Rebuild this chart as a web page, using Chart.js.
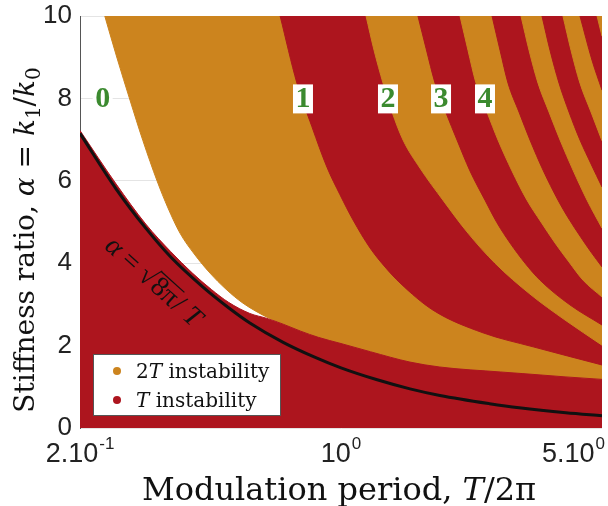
<!DOCTYPE html>
<html>
<head>
<meta charset="utf-8">
<script src="https://cdn.jsdelivr.net/npm/chart.js@4.4.0/dist/chart.umd.min.js"></script>
<style>
  html, body { margin: 0; padding: 0; background: #fff; }
</style>
</head>
<body>
<canvas id="chart" width="608" height="506"></canvas>
<script>
const ORANGE = '#cc841e';
const RED = '#ad151e';
const GREEN = '#3b8a2f';
const SERIF = '"DejaVu Serif", serif';
const SANS = '"Liberation Sans", Arial, sans-serif';

// axis ticks
const xTicks = [0.2, 1, 5];
const xTickBase = ['2.10', '10', '5.10'];
const xTickExp = ['-1', '0', '0'];

// tongue numbers and where they sit
const tongueIds = ['0', '1', '2', '3', '4'];
const tongueX = [0.230, 0.791, 1.336, 1.853, 2.43];
const tongueY = 8;

// boundaries, [T/2pi, alpha]
const whiteEdge = [[0.233, 10], [0.2513, 8.98], [0.2722, 7.96], [0.2949, 6.97], [0.3216, 6.0],
  [0.3441, 5.34], [0.3705, 4.73], [0.4064, 4.20], [0.4458, 3.76], [0.4920, 3.37],
  [0.5464, 3.03], [0.6336, 2.69]];
const redFloor = [[0.2, 7.22], [0.25, 5.92], [0.3, 4.95], [0.35, 4.28], [0.4, 3.76],
  [0.45, 3.36], [0.5, 3.05], [0.57, 2.78], [0.6336, 2.66], [0.7, 2.52], [0.78, 2.35],
  [0.87, 2.2], [1.0, 2.05], [1.2, 1.85], [1.53, 1.6], [1.84, 1.48], [2.67, 1.36],
  [3.07, 1.32], [4.0, 1.24], [5.0, 1.18]];
const tongue1Left = [[0.687, 10], [0.762, 8.37], [0.836, 7.31], [0.917, 6.33], [0.994, 5.66],
  [1.077, 5.05], [1.196, 4.37], [1.320, 3.88], [1.439, 3.52], [1.764, 2.86], [2.40, 2.31],
  [3.27, 1.97], [5.0, 1.53]];
const tongue1Right = [[1.167, 10], [1.226, 9.17], [1.296, 8.37], [1.370, 7.67], [1.466, 6.99],
  [1.627, 6.31], [1.875, 5.53], [2.188, 4.73], [2.585, 4.0], [3.207, 3.25], [3.981, 2.62],
  [5.0, 2.01]];
const tongue2Left = [[1.607, 10], [1.689, 9.22], [1.786, 8.37], [1.911, 7.65], [2.045, 6.99],
  [2.215, 6.24], [2.43, 5.53], [2.617, 4.98], [2.836, 4.49], [3.111, 4.0], [3.41, 3.59],
  [4.10, 2.99], [5.0, 2.50]];
const tongue2Right = [[2.083, 10], [2.188, 9.17], [2.299, 8.37], [2.460, 7.67], [2.633, 6.99],
  [2.870, 6.24], [3.148, 5.53], [3.432, 5.0], [3.743, 4.49], [4.079, 4.03], [4.446, 3.59],
  [5.0, 3.18]];
const tongue3Left = [[2.538, 10], [2.666, 9.17], [2.801, 8.37], [2.997, 7.67], [3.207, 6.99],
  [3.475, 6.26], [3.812, 5.53], [4.079, 5.07], [4.365, 4.66], [4.672, 4.27], [5.0, 3.91]];
const tongue3Right = [[3.034, 10], [3.188, 9.17], [3.37, 8.37], [3.606, 7.67], [3.86, 6.99],
  [4.181, 6.26], [4.56, 5.53], [5.0, 4.85]];
const tongue4Left = [[3.453, 10], [3.628, 9.17], [3.836, 8.37], [4.079, 7.67], [4.365, 6.99],
  [4.672, 6.41], [5.0, 5.85]];
const tongue4Right = [[3.93, 10], [4.13, 9.17], [4.365, 8.37], [4.672, 7.67], [5.0, 6.97]];
const tongue5Left = [[4.365, 10], [4.70, 8.93], [5.0, 8.2]];
const tongue5Right = [[4.85, 10], [5.0, 9.51]];
const thresholdCurve = [[0.2, 7.15], [0.25, 5.8], [0.3, 4.85], [0.35, 4.15], [0.427, 3.42],
  [0.5, 2.92], [0.57, 2.55], [0.7, 2.08], [0.85, 1.72], [1.0, 1.46], [1.25, 1.17],
  [1.53, 0.95], [1.84, 0.79], [2.5, 0.59], [3.0, 0.49], [4.0, 0.37], [5.0, 0.30]];

const legendLabels = ['2T instability', 'T instability'];
const legendColors = [ORANGE, RED];

const pts = arr => arr.map(([x, y]) => ({ x, y }));

// painter's order: every edge fills upwards with the colour above it,
// later (higher, further right) edges paint over the earlier ones
const orangeBase = whiteEdge.concat(redFloor.filter(p => p[0] > whiteEdge[whiteEdge.length - 1][0]));
const layers = [
  [orangeBase, ORANGE, 'end'],
  [tongue1Left, RED, 'end'], [tongue1Right, ORANGE, 'end'],
  [tongue2Left, RED, 'end'], [tongue2Right, ORANGE, 'end'],
  [tongue3Left, RED, 'end'], [tongue3Right, ORANGE, 'end'],
  [tongue4Left, RED, 'end'], [tongue4Right, ORANGE, 'end'],
  [tongue5Left, RED, 'end'], [tongue5Right, ORANGE, 'end'],
  [redFloor, RED, 'start']
];

const datasets = layers.map(([arr, color, fill]) => ({
  data: pts(arr),
  showLine: true,
  fill,
  backgroundColor: color,
  borderColor: color,
  borderWidth: 1,
  pointRadius: 0,
  cubicInterpolationMode: 'monotone'
}));
datasets.push({
  data: pts(thresholdCurve),
  showLine: true,
  fill: false,
  borderColor: '#111',
  borderWidth: 3,
  pointRadius: 0,
  cubicInterpolationMode: 'monotone'
});
datasets.forEach((d, i) => { d.order = datasets.length - i; });

function drawPow(ctx, base, exp, px, py, align) {
  ctx.font = '27px ' + SANS;
  const bw = ctx.measureText(base).width;
  ctx.font = '17px ' + SANS;
  const ew = ctx.measureText(exp).width;
  const w = bw + ew + 1;
  const left = align === 'right' ? px - w : px - w / 2;
  ctx.fillStyle = '#222';
  ctx.textAlign = 'left';
  ctx.textBaseline = 'alphabetic';
  ctx.font = '27px ' + SANS;
  ctx.fillText(base, left, py);
  ctx.font = '17px ' + SANS;
  ctx.fillText(exp, left + bw + 1, py - 13);
}

// text runs: [text, italic, subscript]
function drawRuns(ctx, runs, size, x0, y0, align) {
  const fontOf = r => (r[1] ? 'italic ' : '') + (r[2] ? Math.round(size * 0.7) : size) + 'px ' + SERIF;
  const widths = runs.map(r => { ctx.font = fontOf(r); return ctx.measureText(r[0]).width; });
  const total = widths.reduce((a, b) => a + b, 0);
  let cx = align === 'center' ? x0 - total / 2 : x0;
  ctx.textAlign = 'left';
  ctx.textBaseline = 'alphabetic';
  runs.forEach((r, i) => {
    ctx.font = fontOf(r);
    ctx.fillText(r[0], cx, y0 + (r[2] ? size * 0.22 : 0));
    cx += widths[i];
  });
}

const overlay = {
  id: 'overlay',
  afterDraw(chart) {
    const { ctx, chartArea: area, scales: { x, y } } = chart;
    ctx.save();

    // x tick labels with exponents
    xTicks.forEach((v, i) => {
      const last = i === xTicks.length - 1;
      const px = last ? area.right + 3 : x.getPixelForValue(v);
      drawPow(ctx, xTickBase[i], xTickExp[i], px, area.bottom + 34, last ? 'right' : 'center');
    });

    // axis titles
    ctx.fillStyle = '#111';
    drawRuns(ctx, [['Modulation period, ', false], ['T', true], ['/2π', false]], 32,
      (area.left + area.right) / 2 - 2, 500, 'center');
    ctx.save();
    ctx.translate(34, (area.top + area.bottom) / 2 + 18);
    ctx.rotate(-Math.PI / 2);
    drawRuns(ctx, [['Stiffness ratio, ', false], ['α', true], [' = ', false], ['k', true],
      ['1', false, true], ['/', false], ['k', true], ['0', false, true]], 28, 0, 0, 'center');
    ctx.restore();

    // tongue numbers
    ctx.font = 'bold 30px "Liberation Serif", serif';
    ctx.textAlign = 'center';
    ctx.textBaseline = 'middle';
    tongueIds.forEach((t, i) => {
      const px = x.getPixelForValue(tongueX[i]);
      const py = y.getPixelForValue(tongueY);
      const w = ctx.measureText(t).width + 5;
      ctx.fillStyle = '#fff';
      ctx.fillRect(px - w / 2, py - 14, w, 29);
      ctx.fillStyle = GREEN;
      ctx.fillText(t, px, py + 1);
    });

    // label along the threshold curve
    ctx.save();
    ctx.translate(x.getPixelForValue(0.316), y.getPixelForValue(3.56));
    ctx.rotate(42 * Math.PI / 180);
    ctx.fillStyle = '#111';
    ctx.strokeStyle = '#111';
    const sz = 28;
    const runs = [['α', 'italic '], ['=', ''], ['√', ''], ['8π', ''], ['/', ''], ['T', 'italic ']];
    const gap = 7;
    const ws = runs.map(r => { ctx.font = r[1] + sz + 'px "Liberation Serif", serif'; return ctx.measureText(r[0]).width; });
    const gapOf = r => (r[0] === '8π' || r[0] === '/') ? 1 : gap;
    const tot = ws.reduce((a, b) => a + b, 0) + runs.slice(1).reduce((a, r) => a + gapOf(r), 0);
    let cx = -tot / 2;
    ctx.textAlign = 'left';
    ctx.textBaseline = 'alphabetic';
    runs.forEach((r, i) => {
      ctx.font = r[1] + sz + 'px "Liberation Serif", serif';
      if (i > 0) cx += gapOf(r);
      ctx.fillText(r[0], cx, 9);
      if (r[0] === '8π') {
        ctx.lineWidth = 1.3;
        ctx.beginPath();
        ctx.moveTo(cx - 2, -12);
        ctx.lineTo(cx + ws[i] + 1, -12);
        ctx.stroke();
      }
      cx += ws[i];
    });
    ctx.restore();

    // legend box
    const lx = area.left + 13, ly = area.bottom - 74;
    ctx.fillStyle = '#fff';
    ctx.fillRect(lx, ly, 187, 61);
    ctx.strokeStyle = '#555';
    ctx.lineWidth = 1;
    ctx.strokeRect(lx + 0.5, ly + 0.5, 187, 61);
    legendLabels.forEach((lab, i) => {
      const cy = ly + 17 + i * 29;
      ctx.fillStyle = legendColors[i];
      ctx.beginPath();
      ctx.arc(lx + 24, cy, 4, 0, Math.PI * 2);
      ctx.fill();
      ctx.fillStyle = '#111';
      const k = lab.indexOf('T');
      drawRuns(ctx, [[lab.slice(0, k), false], ['T', true], [lab.slice(k + 1), false]], 20,
        lx + 43, cy + 7, 'left');
    });

    ctx.restore();
  }
};

new Chart(document.getElementById('chart'), {
  type: 'scatter',
  data: { datasets },
  options: {
    responsive: false,
    animation: false,
    layout: { padding: { top: 16, right: 6, left: 0, bottom: 0 } },
    scales: {
      x: {
        type: 'logarithmic',
        min: 0.2,
        max: 5,
        afterBuildTicks: s => { s.ticks = xTicks.map(v => ({ value: v })); },
        afterFit: s => { s.height = 78; s.paddingLeft = 0; s.paddingRight = 0; },
        ticks: { display: false },
        grid: { display: false },
        border: { display: false }
      },
      y: {
        min: 0,
        max: 10,
        afterFit: s => { s.width = 80; s.paddingTop = 0; s.paddingBottom = 0; },
        ticks: { stepSize: 2, color: '#222', font: { family: SANS, size: 26 }, padding: 8 },
        grid: { color: '#e4e4e4', drawTicks: false },
        border: { color: '#555' }
      }
    },
    plugins: { legend: { display: false }, tooltip: { enabled: false } }
  },
  plugins: [overlay]
});
</script>
</body>
</html>
